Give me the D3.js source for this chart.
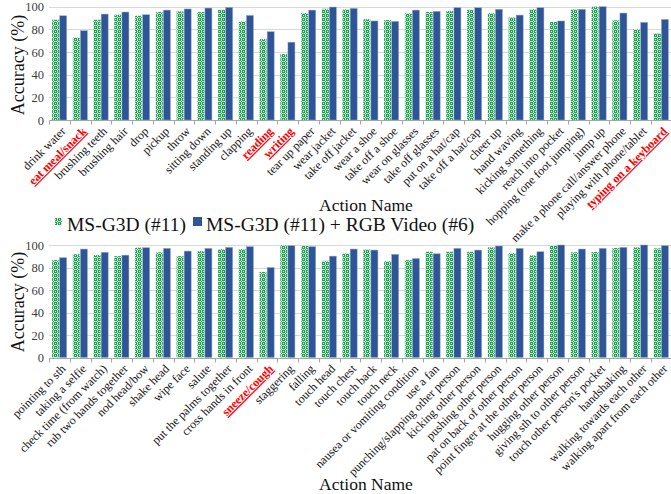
<!DOCTYPE html>
<html>
<head>
<meta charset="utf-8">
<script src="https://cdn.jsdelivr.net/npm/d3@7"></script>
<style>
  html, body { margin: 0; padding: 0; background: #fff; }
  svg text { font-family: "Liberation Serif", "DejaVu Serif", serif; }
</style>
</head>
<body>
<svg id="chart" width="671" height="494"></svg>
<script>
// Per-action accuracy (%) for the skeleton-only model and the skeleton + RGB fusion
const seriesNames = ["MS-G3D (#11)", "MS-G3D (#11) + RGB Video (#6)"];

const actionsTop = [
  "drink water", "eat meal/snack", "brushing teeth", "brushing hair", "drop",
  "pickup", "throw", "sitting down", "standing up", "clapping",
  "reading", "writing", "tear up paper", "wear jacket", "take off jacket",
  "wear a shoe", "take off a shoe", "wear on glasses", "take off glasses", "put on a hat/cap",
  "take off a hat/cap", "cheer up", "hand waving", "kicking something", "reach into pocket",
  "hopping (one foot jumping)", "jump up", "make a phone call/answer phone",
  "playing with phone/tablet", "typing on a keyboard"
];
const skeletonTop = [
  88.5, 72.8, 88.5, 92.9, 92.0, 95.3, 95.9, 95.3, 97.3, 87.0,
  71.4, 58.1, 94.4, 98.2, 97.7, 89.0, 88.2, 94.1, 95.3, 96.2,
  97.3, 94.4, 90.6, 97.7, 86.5, 97.7, 100.0, 88.0, 80.0, 76.5
];
const fusionTop = [
  92.0, 78.8, 93.5, 95.3, 92.9, 97.0, 98.0, 98.8, 99.4, 92.3,
  77.9, 68.7, 97.0, 99.7, 98.5, 87.4, 87.0, 97.0, 95.9, 99.1,
  99.1, 97.7, 92.6, 99.1, 87.4, 97.7, 100.0, 94.4, 86.2, 88.8
];

const actionsBottom = [
  "pointing to sth", "taking a selfie", "check time (from watch)", "rub two hands together",
  "nod head/bow", "shake head", "wipe face", "salute", "put the palms together",
  "cross hands in front", "sneeze/cough", "staggering", "falling", "touch head",
  "touch chest", "touch back", "touch neck", "nausea or vomiting condition", "use a fan",
  "punching/slapping other person", "kicking other person", "pushing other person",
  "pat on back of other person", "point finger at the other person", "hugging other person",
  "giving sth to other person", "touch other person's pocket", "handshaking",
  "walking towards each other", "walking apart from each other"
];
const skeletonBottom = [
  86.6, 91.7, 91.0, 90.1, 97.6, 93.5, 90.1, 94.6, 96.4, 96.4,
  76.1, 100.0, 99.1, 86.0, 92.5, 96.1, 85.7, 86.6, 94.0, 94.0,
  94.0, 97.9, 92.8, 90.7, 99.1, 93.5, 93.8, 97.3, 97.9, 97.0
];
const fusionBottom = [
  88.7, 96.4, 93.5, 91.0, 97.6, 97.0, 94.6, 97.0, 97.9, 98.5,
  80.0, 99.4, 98.5, 90.1, 96.4, 95.5, 91.7, 88.0, 92.2, 97.0,
  95.5, 99.1, 97.0, 94.0, 100.0, 96.4, 97.0, 97.9, 100.0, 99.4
];

// Actions where the fusion model is highlighted
const highlighted = ["eat meal/snack", "reading", "writing", "typing on a keyboard", "sneeze/cough"];

const yTicks = [0, 20, 40, 60, 80, 100];

const FONT = "'Liberation Serif', 'DejaVu Serif', serif";
const svg = d3.select("#chart");
const green = "#12a84a";
const blue = "#2f5597";

// Checkered green fill used for the skeleton-only bars
const defs = svg.append("defs");
const pat = defs.append("pattern")
  .attr("id", "greenCheck")
  .attr("patternUnits", "userSpaceOnUse")
  .attr("width", 4).attr("height", 4);
pat.append("rect").attr("width", 4).attr("height", 4).attr("fill", green);
[[1, 0], [0, 1], [2, 1], [1, 2], [3, 3]].forEach(([x, y]) => {
  pat.append("rect").attr("x", x).attr("y", y).attr("width", 1).attr("height", 1).attr("fill", "#ffffff");
});
[[3, 1], [1, 3]].forEach(([x, y]) => {
  pat.append("rect").attr("x", x).attr("y", y).attr("width", 1).attr("height", 1).attr("fill", "#9be0b2");
});

function panel(opts) {
  const { categories, a, b, y0, y100, titleY, nameY } = opts;
  const x = d3.scaleBand().domain(categories).range([49, 671.5]).paddingInner(0).paddingOuter(0);
  const y = d3.scaleLinear().domain([0, 100]).range([y0, y100]);
  const barW = 7;
  const g = svg.append("g");

  // horizontal gridlines
  g.append("g").selectAll("line").data(yTicks.filter(t => t > 0)).join("line")
    .attr("x1", 49).attr("x2", 671)
    .attr("y1", d => Math.round(y(d)) + 0.5).attr("y2", d => Math.round(y(d)) + 0.5)
    .attr("stroke", "#d9d9d9").attr("stroke-width", 1);

  // y tick labels
  const yAxis = d3.axisLeft(y).tickValues(yTicks).tickSize(0).tickPadding(5);
  const ya = g.append("g").attr("transform", "translate(49,0)").call(yAxis);
  ya.attr("font-family", FONT);
  ya.select(".domain").remove();
  ya.selectAll("text").attr("font-family", FONT).attr("font-size", 12.5).attr("fill", "#404040");

  const rows = categories.map((c, i) => ({ c, a: a[i], b: b[i] }));
  const cx = c => x(c) + x.bandwidth() / 2;

  g.append("g").selectAll("rect").data(rows).join("rect")
    .attr("x", d => cx(d.c) - barW - 0.3)
    .attr("y", d => y(d.a))
    .attr("width", barW)
    .attr("height", d => y(0) - y(d.a))
    .attr("fill", "url(#greenCheck)");

  g.append("g").selectAll("rect").data(rows).join("rect")
    .attr("x", d => cx(d.c) + 0.3)
    .attr("y", d => y(d.b))
    .attr("width", barW)
    .attr("height", d => y(0) - y(d.b))
    .attr("fill", blue)
    .attr("stroke", "#8ea9db").attr("stroke-width", 0.5);

  // category axis with ticks between categories
  const xa = g.append("g").attr("transform", `translate(0,${Math.round(y0) + 0.5})`);
  xa.append("line").attr("x1", 49).attr("x2", 671).attr("stroke", "#a6a6a6").attr("stroke-width", 1);
  xa.selectAll("line.tk").data(categories).join("line").attr("class", "tk")
    .attr("x1", d => Math.round(x(d)) + 0.5).attr("x2", d => Math.round(x(d)) + 0.5)
    .attr("y1", 0).attr("y2", 4)
    .attr("stroke", "#a6a6a6");

  // rotated action labels
  g.append("g").selectAll("text").data(categories).join("text")
    .attr("transform", d => `translate(${cx(d) + 4},${y0 + 9}) rotate(-45)`)
    .attr("text-anchor", "end")
    .attr("dy", "0.35em")
    .attr("font-family", FONT)
    .attr("font-size", 12)
    .attr("font-weight", d => highlighted.includes(d) ? "bold" : "normal")
    .attr("fill", d => highlighted.includes(d) ? "#ff0000" : "#111")
    .attr("text-decoration", d => highlighted.includes(d) ? "underline" : null)
    .text(d => d);

  // axis titles
  svg.append("text")
    .attr("transform", `translate(24,${titleY}) rotate(-90)`)
    .attr("text-anchor", "middle")
    .attr("font-family", FONT)
    .attr("font-size", 18)
    .attr("fill", "#111")
    .text("Accuracy (%)");

  svg.append("text")
    .attr("x", 366).attr("y", nameY)
    .attr("text-anchor", "middle")
    .attr("font-family", FONT)
    .attr("font-size", 17.5)
    .attr("fill", "#111")
    .text("Action Name");
}

panel({ categories: actionsTop, a: skeletonTop, b: fusionTop, y0: 120, y100: 6.7, titleY: 65, nameY: 211 });
panel({ categories: actionsBottom, a: skeletonBottom, b: fusionBottom, y0: 357.5, y100: 245, titleY: 302, nameY: 490 });

// legend
const lg = svg.append("g").attr("font-family", FONT).attr("font-size", 19.5).attr("fill", "#111");
lg.append("rect").attr("x", 55).attr("y", 218).attr("width", 7).attr("height", 7).attr("fill", "url(#greenCheck)");
lg.append("text").attr("x", 67).attr("y", 231).text(seriesNames[0]);
lg.append("rect").attr("x", 193).attr("y", 217).attr("width", 9).attr("height", 9).attr("fill", blue);
lg.append("text").attr("x", 206).attr("y", 231).text(seriesNames[1]);
</script>
</body>
</html>
